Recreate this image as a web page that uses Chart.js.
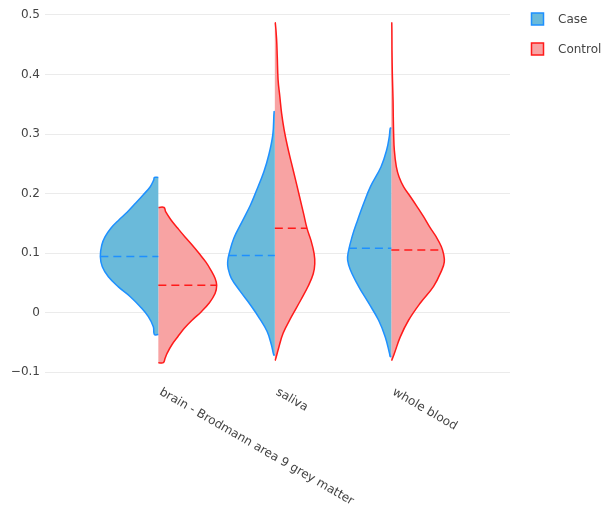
<!DOCTYPE html>
<html>
<head>
<meta charset="utf-8">
<script src="https://cdn.jsdelivr.net/npm/chart.js@4.4.1/dist/chart.umd.min.js"></script>
<style>
html, body { margin: 0; padding: 0; background: #fff; }
#wrap { width: 605px; height: 516px; position: relative; }
</style>
</head>
<body>
<div id="wrap"><canvas id="c"></canvas></div>
<script>
// ---- data ----
const categories = ['brain - Brodmann area 9 grey matter', 'saliva', 'whole blood'];
const seriesNames = ['Case', 'Control'];
const yTicks = [-0.1, 0, 0.1, 0.2, 0.3, 0.4, 0.5];

// Case (left half) outlines: value levels and half-widths (category units)
const brainCaseY = [0.227, 0.223, 0.211, 0.198, 0.184, 0.169, 0.156, 0.142, 0.127, 0.113, 0.094, 0.077, 0.060, 0.043, 0.027, 0.010, -0.007, -0.024, -0.037];
const brainCaseW = [0.034, 0.039, 0.071, 0.129, 0.194, 0.266, 0.337, 0.406, 0.458, 0.486, 0.498, 0.481, 0.429, 0.343, 0.243, 0.157, 0.086, 0.043, 0.034];
const salivaCaseY = [0.3375, 0.2995, 0.2647, 0.2366, 0.2003, 0.1807, 0.1526, 0.1247, 0.0966, 0.085, 0.0743, 0.0575, 0.035, 0.0126, -0.0097, -0.032, -0.0546, -0.0714];
const salivaCaseW = [0.006, 0.017, 0.052, 0.094, 0.167, 0.209, 0.281, 0.352, 0.395, 0.405, 0.401, 0.373, 0.295, 0.209, 0.132, 0.066, 0.029, 0.009];
const bloodCaseY = [0.310, 0.296, 0.273, 0.245, 0.212, 0.184, 0.156, 0.128, 0.100, 0.088, 0.072, 0.044, 0.016, -0.013, -0.041, -0.069, -0.074];
const bloodCaseW = [0.009, 0.017, 0.040, 0.088, 0.178, 0.236, 0.288, 0.336, 0.371, 0.375, 0.352, 0.281, 0.195, 0.109, 0.052, 0.015, 0.009];

// Control (right half) outlines
const brainControlY = [0.1765, 0.169, 0.1555, 0.1415, 0.127, 0.113, 0.0995, 0.085, 0.071, 0.0575, 0.046, 0.032, 0.0155, 0.001, -0.0126, -0.0266, -0.0407, -0.0546, -0.0686, -0.077, -0.0844];
const brainControlW = [0.049, 0.064, 0.109, 0.167, 0.229, 0.292, 0.349, 0.407, 0.452, 0.487, 0.501, 0.487, 0.435, 0.367, 0.292, 0.223, 0.167, 0.115, 0.075, 0.058, 0.043];
const salivaControlY = [0.487, 0.460, 0.430, 0.391, 0.363, 0.335, 0.307, 0.279, 0.251, 0.223, 0.195, 0.167, 0.141, 0.122, 0.0995, 0.082, 0.065, 0.045, 0.021, -0.007, -0.035, -0.063, -0.080];
const salivaControlW = [0.004, 0.015, 0.021, 0.028, 0.043, 0.058, 0.080, 0.109, 0.143, 0.178, 0.212, 0.246, 0.277, 0.309, 0.337, 0.343, 0.330, 0.288, 0.223, 0.143, 0.071, 0.028, 0.004];
const bloodControlY = [0.487, 0.440, 0.400, 0.357, 0.329, 0.301, 0.273, 0.245, 0.228, 0.211, 0.195, 0.178, 0.161, 0.144, 0.127, 0.111, 0.098, 0.085, 0.072, 0.044, 0.016, -0.013, -0.041, -0.069, -0.080];
const bloodControlW = [0.004, 0.006, 0.009, 0.015, 0.017, 0.020, 0.026, 0.043, 0.066, 0.106, 0.163, 0.221, 0.277, 0.329, 0.386, 0.429, 0.449, 0.455, 0.435, 0.363, 0.249, 0.148, 0.077, 0.026, 0.004];

// dashed mean lines: level and half-width at that level
const caseMeans = [0.094, 0.096, 0.108];
const caseMeanW = [0.498, 0.395, 0.364];
const controlMeans = [0.046, 0.1415, 0.105];
const controlMeanW = [0.501, 0.277, 0.444];

// ---- styles ----
const fillColors = ['rgb(106,186,218)', 'rgb(248,163,163)'];
const lineColors = ['#1E90FF', '#FF1A1A'];

Chart.defaults.font.family = '"DejaVu Sans", Verdana, sans-serif';
Chart.defaults.font.size = 12;
Chart.defaults.color = '#444';

const caseShapes = [[brainCaseY, brainCaseW], [salivaCaseY, salivaCaseW], [bloodCaseY, bloodCaseW]];
const controlShapes = [[brainControlY, brainControlW], [salivaControlY, salivaControlW], [bloodControlY, bloodControlW]];

function halfViolin(center, ys, ws, side) {
  const pts = [{ x: center, y: ys[0] }];
  ys.forEach((y, k) => pts.push({ x: center + side * ws[k], y: y }));
  pts.push({ x: center, y: ys[ys.length - 1] });
  return pts;
}

const datasets = [];
categories.forEach((cat, i) => {
  [[caseShapes, -1, 0], [controlShapes, 1, 1]].forEach(([shapes, side, s]) => {
    datasets.push({
      label: seriesNames[s],
      data: halfViolin(i, shapes[i][0], shapes[i][1], side),
      showLine: true,
      fill: 'shape',
      backgroundColor: fillColors[s],
      borderColor: lineColors[s],
      borderWidth: 1.5,
      tension: 0.4,
      pointRadius: 0,
      pointHoverRadius: 0,
      order: 2
    });
  });
  datasets.push({
    label: seriesNames[0] + ' mean',
    data: [{ x: i - caseMeanW[i], y: caseMeans[i] }, { x: i, y: caseMeans[i] }],
    showLine: true, fill: false, borderColor: lineColors[0], borderWidth: 1.5,
    borderDash: [8, 5], pointRadius: 0, pointHoverRadius: 0, order: 1
  });
  datasets.push({
    label: seriesNames[1] + ' mean',
    data: [{ x: i, y: controlMeans[i] }, { x: i + controlMeanW[i], y: controlMeans[i] }],
    showLine: true, fill: false, borderColor: lineColors[1], borderWidth: 1.5,
    borderDash: [8, 5], pointRadius: 0, pointHoverRadius: 0, order: 1
  });
});

function fmtTick(v) {
  const r = Math.round(v * 10) / 10;
  return r < 0 ? '\u2212' + Math.abs(r) : String(r);
}

const xLabelPlugin = {
  id: 'xLabels',
  afterDraw(chart) {
    const { ctx, chartArea } = chart;
    const xs = chart.scales.x;
    ctx.save();
    ctx.font = '12px "DejaVu Sans", Verdana, sans-serif';
    ctx.fillStyle = '#444';
    ctx.textAlign = 'left';
    ctx.textBaseline = 'top';
    categories.forEach((label, i) => {
      const px = xs.getPixelForValue(i);
      ctx.save();
      ctx.translate(px + 5, chartArea.bottom + 10);
      ctx.rotate(Math.PI / 6);
      ctx.fillText(label, 0, 0);
      ctx.restore();
    });
    ctx.restore();
  }
};

const legendPlugin = {
  id: 'sideLegend',
  afterDraw(chart) {
    const { ctx, chartArea } = chart;
    ctx.save();
    ctx.font = '12px "DejaVu Sans", Verdana, sans-serif';
    ctx.textAlign = 'left';
    ctx.textBaseline = 'middle';
    seriesNames.forEach((name, i) => {
      const top = 13 + i * 30;
      const bx = chartArea.right + 21.5;
      ctx.fillStyle = fillColors[i];
      ctx.fillRect(bx, top, 12, 12);
      ctx.strokeStyle = lineColors[i];
      ctx.lineWidth = 1.5;
      ctx.strokeRect(bx, top, 12, 12);
      ctx.fillStyle = '#444';
      ctx.fillText(name, bx + 26.5, top + 6.5);
    });
    ctx.restore();
  }
};

new Chart(document.getElementById('c'), {
  type: 'scatter',
  data: { datasets: datasets },
  options: {
    responsive: true,
    maintainAspectRatio: false,
    animation: false,
    layout: { padding: { top: 0, right: 95, bottom: 140, left: 0 } },
    scales: {
      x: { type: 'linear', min: -0.973, max: 3.019, display: false },
      y: {
        type: 'linear',
        min: -0.1067,
        max: 0.5252,
        afterFit(scale) { scale.width = 45; scale.paddingTop = 0; scale.paddingBottom = 0; },
        afterBuildTicks(scale) { scale.ticks = yTicks.map(v => ({ value: v })); },
        ticks: { padding: 5, color: '#444', callback: v => fmtTick(v) },
        grid: { color: '#ebebeb', lineWidth: 1, drawTicks: false },
        border: { display: false }
      }
    },
    plugins: {
      legend: { display: false },
      tooltip: { enabled: false }
    }
  },
  plugins: [xLabelPlugin, legendPlugin]
});
</script>
</body>
</html>
